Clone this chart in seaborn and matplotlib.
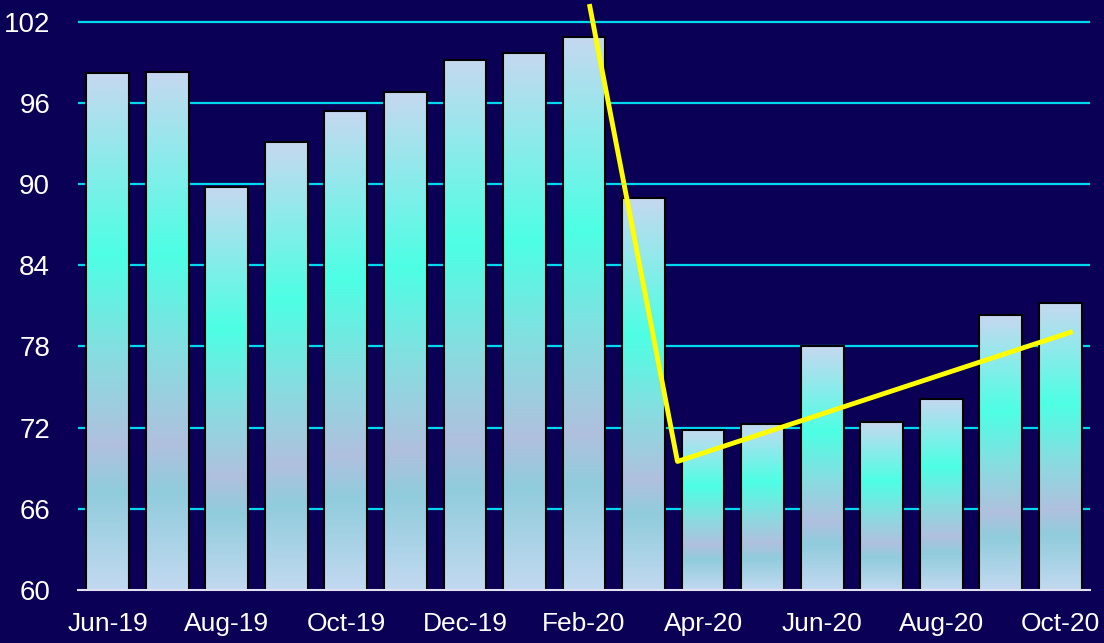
import numpy as np
import pandas as pd
import matplotlib
matplotlib.use('Agg')
import matplotlib.pyplot as plt
from matplotlib.colors import LinearSegmentedColormap
from matplotlib import font_manager
import seaborn as sns

# data
months = ['Jun-19', 'Jul-19', 'Aug-19', 'Sep-19', 'Oct-19', 'Nov-19', 'Dec-19',
          'Jan-20', 'Feb-20', 'Mar-20', 'Apr-20', 'May-20', 'Jun-20', 'Jul-20',
          'Aug-20', 'Sep-20', 'Oct-20']
values = [98.2, 98.3, 89.8, 93.1, 95.4, 96.8, 99.2, 99.7, 100.9, 89.0,
          71.8, 72.3, 78.0, 72.4, 74.1, 80.3, 81.2]
trend_pos = [8.09, 9.57, 16.21]
trend_val = [103.3, 69.5, 79.1]
y_ticks = [60, 66, 72, 78, 84, 90, 96, 102]

BG = '#0a0055'
GRID = '#00d8f0'

sns.set_style('white')
names = {f.name for f in font_manager.fontManager.ttflist}
fam = 'Liberation Sans Narrow' if 'Liberation Sans Narrow' in names else 'Liberation Sans'
plt.rcParams['font.family'] = [fam, 'DejaVu Sans']

df = pd.DataFrame({'month': months, 'value': values})

fig = plt.figure(figsize=(11.04, 6.43), dpi=100, facecolor=BG)
ax = fig.add_axes([78 / 1104, 53 / 643, 1012 / 1104, 590 / 643])
ax.set_facecolor(BG)

sns.barplot(data=df, x='month', y='value', ax=ax, width=0.72,
            color='white', edgecolor='black', linewidth=1.5, zorder=2)

cmap = LinearSegmentedColormap.from_list('bar', [
    (0.0, '#c6d8f0'), (0.35, '#4dffe4'), (0.55, '#88dce0'),
    (0.72, '#b0c0de'), (0.81, '#90ccdc'), (1.0, '#c2d9f0')])
grad = np.linspace(0, 1, 256).reshape(-1, 1)
ymin, ymax = 60, 103.6
for p in ax.patches:
    x0, w, top = p.get_x(), p.get_width(), p.get_height()
    im = ax.imshow(grad, cmap=cmap, aspect='auto', origin='upper',
                   extent=[x0, x0 + w, ymin, top], zorder=2.5)
    im.set_clip_path(p)
    p.set_facecolor('none')
    p.set_zorder(3)

ax.plot(trend_pos, trend_val, color='#ffff00', lw=3.5, zorder=4, clip_on=False,
        solid_capstyle='butt')

ax.set_xlim(-0.5, len(months) - 0.5)
ax.set_ylim(ymin, ymax)

for v in y_ticks[1:]:
    ax.axhline(v, color=GRID, lw=1.6, zorder=1)

ax.set_yticks(y_ticks)
ax.tick_params(axis='y', length=0, pad=20, labelsize=20, labelcolor='white')

ax.set_xticks(np.arange(-0.5, len(months), 2))
ax.set_xticklabels([])
ax.set_xticks(np.arange(0, len(months), 2), minor=True)
ax.set_xticklabels(months[::2], minor=True)
ax.tick_params(axis='x', which='major', length=10, width=1.5, color='#e0e0f0')
ax.tick_params(axis='x', which='minor', length=0, pad=16, labelsize=19,
               labelcolor='white')
ax.set_xlabel('')
ax.set_ylabel('')

for s in ['top', 'right', 'left']:
    ax.spines[s].set_visible(False)
ax.spines['bottom'].set_color('#e0e0f0')
ax.spines['bottom'].set_linewidth(1.5)
ax.spines['bottom'].set_zorder(5)

fig.savefig('out.png', dpi=100, facecolor=BG)
